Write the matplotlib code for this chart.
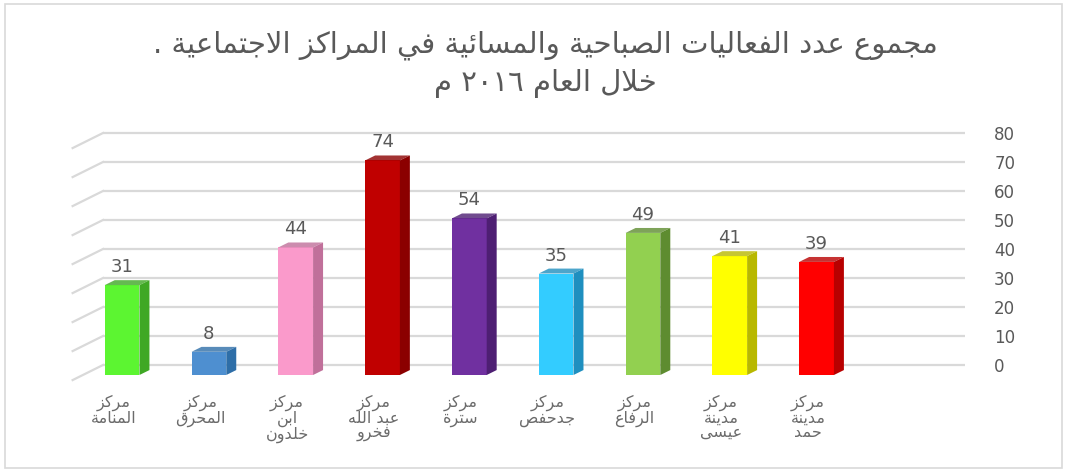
import re
import matplotlib
matplotlib.use("Agg")
import matplotlib.pyplot as plt
from matplotlib.patches import Polygon, Rectangle
from matplotlib.lines import Line2D

# data
title_lines = ["مجموع عدد الفعاليات الصباحية والمسائية في المراكز الاجتماعية .",
               "خلال العام ٢٠١٦ م"]
categories = ["مركز\nالمنامة", "مركز\nالمحرق", "مركز\nابن\nخلدون", "مركز\nعبد الله\nفخرو",
              "مركز\nسترة", "مركز\nجدحفص", "مركز\nالرفاع", "مركز\nمدينة\nعيسى",
              "مركز\nمدينة\nحمد"]
values = [31, 8, 44, 74, 54, 35, 49, 41, 39]
front_colors = ["#5CF531", "#4E8FD0", "#FA9ACB", "#C00000", "#7030A0",
                "#33CCFF", "#92D050", "#FFFF00", "#FF0000"]
side_colors = ["#3FA825", "#2E6EA8", "#C0709A", "#8B0000", "#4E1F73",
               "#1F8FBF", "#5E8C30", "#B8B800", "#B80000"]
yticks = list(range(0, 81, 10))

# minimal arabic shaping (matplotlib has no complex text layout)
FORMS = {
    "ا": (0xFE8D, 0xFE8E), "ب": (0xFE8F, 0xFE90, 0xFE91, 0xFE92),
    "ة": (0xFE93, 0xFE94), "ت": (0xFE95, 0xFE96, 0xFE97, 0xFE98),
    "ج": (0xFE9D, 0xFE9E, 0xFE9F, 0xFEA0), "ح": (0xFEA1, 0xFEA2, 0xFEA3, 0xFEA4),
    "خ": (0xFEA5, 0xFEA6, 0xFEA7, 0xFEA8), "د": (0xFEA9, 0xFEAA),
    "ر": (0xFEAD, 0xFEAE), "ز": (0xFEAF, 0xFEB0),
    "س": (0xFEB1, 0xFEB2, 0xFEB3, 0xFEB4), "ص": (0xFEB9, 0xFEBA, 0xFEBB, 0xFEBC),
    "ع": (0xFEC9, 0xFECA, 0xFECB, 0xFECC), "ف": (0xFED1, 0xFED2, 0xFED3, 0xFED4),
    "ق": (0xFED5, 0xFED6, 0xFED7, 0xFED8), "ك": (0xFED9, 0xFEDA, 0xFEDB, 0xFEDC),
    "ل": (0xFEDD, 0xFEDE, 0xFEDF, 0xFEE0), "م": (0xFEE1, 0xFEE2, 0xFEE3, 0xFEE4),
    "ن": (0xFEE5, 0xFEE6, 0xFEE7, 0xFEE8), "ه": (0xFEE9, 0xFEEA, 0xFEEB, 0xFEEC),
    "و": (0xFEED, 0xFEEE), "ى": (0xFEEF, 0xFEF0),
    "ي": (0xFEF1, 0xFEF2, 0xFEF3, 0xFEF4), "ئ": (0xFE89, 0xFE8A, 0xFE8B, 0xFE8C),
}


def dual(c):
    return c in FORMS and len(FORMS[c]) == 4


def shape_line(s):
    out = []
    i = 0
    while i < len(s):
        c = s[i]
        jp = i > 0 and dual(s[i - 1])
        if c == "ل" and i + 1 < len(s) and s[i + 1] == "ا":
            out.append(chr(0xFEFC if jp else 0xFEFB))
            i += 2
            continue
        if c in FORMS:
            f = FORMS[c]
            jn = dual(c) and i + 1 < len(s) and s[i + 1] in FORMS
            if jp and jn:
                out.append(chr(f[3]))
            elif jp:
                out.append(chr(f[1]))
            elif jn:
                out.append(chr(f[2]))
            else:
                out.append(chr(f[0]))
        else:
            out.append(c)
        i += 1
    vis = "".join(reversed(out))
    return re.sub(r"[0-9\u0660-\u0669]+", lambda m: m.group(0)[::-1], vis)


def ar(s):
    return "\n".join(shape_line(l) for l in s.split("\n"))


W, H = 1068, 472
fig = plt.figure(figsize=(W / 100, H / 100), dpi=100)
fig.patches.append(Rectangle((5 / W, 4 / H), 1057 / W, 464 / H, transform=fig.transFigure,
                             fill=False, edgecolor="#d9d9d9", lw=1.2))

ymin, ymax = -5, 82
ax = fig.add_axes([103 / W, (H - 379.5) / H, 862 / W, 252.3 / H])
ax.set_xlim(-0.22, 9.71)
ax.set_ylim(ymin, ymax)
for s in ax.spines.values():
    s.set_visible(False)

ax.set_yticks(yticks)
ax.yaxis.tick_right()
ax.tick_params(axis="y", length=0, pad=21, labelsize=12, labelcolor="#595959")
ax.grid(axis="y", color="#d9d9d9", lw=1.6)
ax.set_axisbelow(True)

# left side wall lines
for v in yticks:
    ax.add_line(Line2D([-0.22, -0.57], [v, v - 5.2], color="#d9d9d9", lw=1.6, clip_on=False))

x = list(range(len(values)))
w, d0, dx, dy = 0.40, 3.45, 0.115, 1.7
ax.bar(x, values, width=w, bottom=-d0, color=front_colors, zorder=3)
for xi, v, fc, sc in zip(x, values, front_colors, side_colors):
    top = v - d0
    r = xi + w / 2
    ax.add_patch(Polygon([(r, -d0), (r + dx, -d0 + dy), (r + dx, top + dy), (r, top)],
                         closed=True, facecolor=sc, edgecolor="none", zorder=3))
    ax.add_patch(Polygon([(xi - w / 2, top), (r, top), (r + dx, top + dy), (xi - w / 2 + dx, top + dy)],
                         closed=True, facecolor=sc, edgecolor="none", alpha=0.8, zorder=3))
    ax.text(xi, top + 6.2, str(v), ha="center", va="center", fontsize=13, color="#595959")

ax.set_xticks([xi - 0.1 for xi in x])
ax.set_xticklabels([ar(c) for c in categories], fontsize=11.5, color="#6b6b6b", linespacing=0.95)
ax.tick_params(axis="x", length=0, pad=11)

fig.text(545 / W, 1 - 45 / H, ar(title_lines[0]), ha="center", va="center", fontsize=21, color="#595959")
fig.text(545 / W, 1 - 83 / H, ar(title_lines[1]), ha="center", va="center", fontsize=21, color="#595959")

fig.savefig("out.png", dpi=100)
